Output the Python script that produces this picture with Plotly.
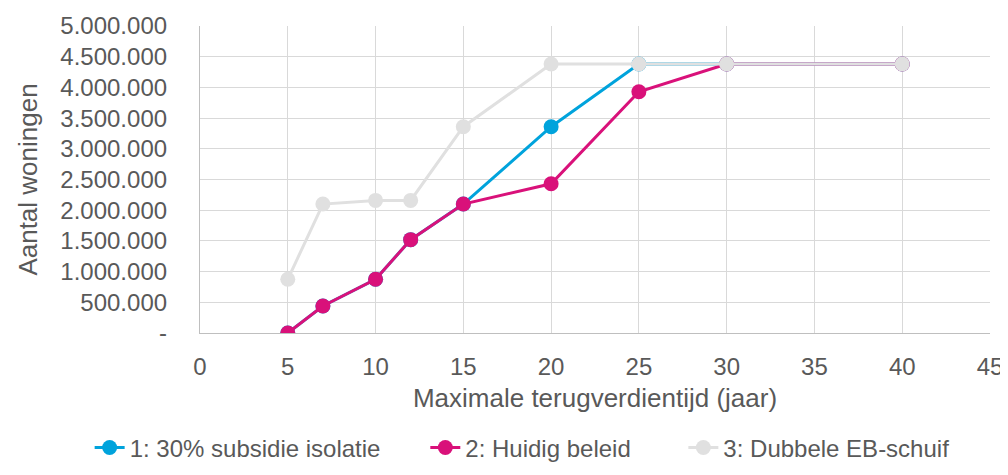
import plotly.graph_objects as go

x_vals = [5, 7, 10, 12, 15, 20, 25, 30, 40]
s1_name = "1: 30% subsidie isolatie"
s1_vals = [0, 440000, 875000, 1520000, 2100000, 3360000, 4380000, 4380000, 4380000]
s2_name = "2: Huidig beleid"
s2_vals = [0, 440000, 875000, 1520000, 2100000, 2430000, 3930000, 4380000, 4380000]
s3_name = "3: Dubbele EB-schuif"
s3_vals = [875000, 2100000, 2160000, 2160000, 3360000, 4380000, 4380000, 4380000, 4380000]

y_tickvals = [0, 500000, 1000000, 1500000, 2000000, 2500000, 3000000, 3500000, 4000000, 4500000, 5000000]
y_ticktext = ["-", "500.000", "1.000.000", "1.500.000", "2.000.000", "2.500.000",
              "3.000.000", "3.500.000", "4.000.000", "4.500.000", "5.000.000"]
x_tickvals = [0, 5, 10, 15, 20, 25, 30, 35, 40, 45]

FONT = "Liberation Sans, Arial, sans-serif"
TXT = "#595959"
TICK = 24
TITLE = 26

series = [(s1_name, s1_vals, "#00a3dc", "legend", 0.081),
          (s2_name, s2_vals, "#d9117a", "legend2", 0.414),
          (s3_name, s3_vals, "#e0e0e0", "legend3", 0.670)]

fig = go.Figure()
legends = {}
for name, vals, col, leg, lx in series:
    fig.add_trace(go.Scatter(x=x_vals, y=vals, name=name, mode="lines+markers",
                             legend=leg,
                             line=dict(color=col, width=3),
                             marker=dict(color=col, size=15)))
    legends[leg] = dict(orientation="h", xref="container", yref="container",
                        x=lx, xanchor="left", y=0.074, yanchor="middle",
                        font=dict(size=TICK, color=TXT),
                        bgcolor="rgba(0,0,0,0)")

fig.update_layout(
    width=1008, height=475,
    margin=dict(l=192, r=26, t=18, b=150, autoexpand=False),
    paper_bgcolor="white", plot_bgcolor="white",
    font=dict(family=FONT, color=TXT, size=TICK),
    showlegend=True,
    **legends,
)
fig.update_xaxes(range=[0, 45], tickvals=x_tickvals, showgrid=True,
                 gridcolor="#d9d9d9", gridwidth=1.2, showline=True,
                 linecolor="#bfbfbf", linewidth=1.2, zeroline=False,
                 ticks="", ticklabelstandoff=12, automargin=False,
                 tickfont=dict(size=TICK, color=TXT),
                 title=dict(text="Maximale terugverdientijd (jaar)",
                            font=dict(size=TITLE, color=TXT), standoff=9))
fig.update_yaxes(range=[0, 5000000], tickvals=y_tickvals, ticktext=y_ticktext,
                 showgrid=True, gridcolor="#d9d9d9", gridwidth=1.2,
                 showline=True, linecolor="#bfbfbf", linewidth=1.2,
                 zeroline=False, ticks="", ticklabelstandoff=27,
                 automargin=False,
                 tickfont=dict(size=TICK, color=TXT),
                 title=dict(text="Aantal woningen",
                            font=dict(size=TITLE, color=TXT), standoff=15))

fig.write_html("out.html")
